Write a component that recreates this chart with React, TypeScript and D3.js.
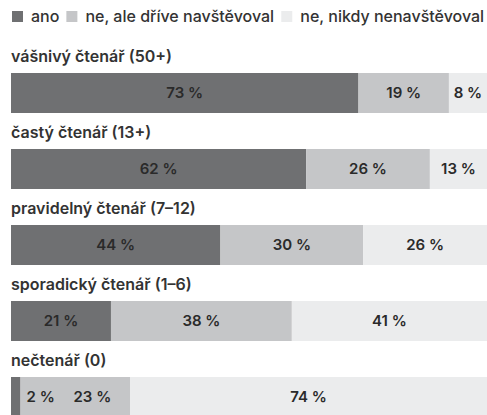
import React from "react";
import { scaleLinear, scaleBand } from "d3";

const categories = [
  "vášnivý čtenář (50+)",
  "častý čtenář (13+)",
  "pravidelný čtenář (7–12)",
  "sporadický čtenář (1–6)",
  "nečtenář (0)",
];
const seriesNames = ["ano", "ne, ale dříve navštěvoval", "ne, nikdy nenavštěvoval"];
const ano = [73, 62, 44, 21, 2];
const drive = [19, 26, 30, 38, 23];
const nikdy = [8, 13, 26, 41, 74];

const colors = ["#6f7072", "#c5c6c8", "#ebeced"];
const W = 487;
const H = 415;
const FONT = "Inter, 'Noto Sans', sans-serif";

let ctx: CanvasRenderingContext2D | null = null;
const measure = (t: string, font: string) => {
  if (!ctx) ctx = document.createElement("canvas").getContext("2d");
  if (!ctx) return t.length * 8;
  ctx.font = font;
  return ctx.measureText(t).width;
};

export default function App() {
  const left = 11;
  const xScale = scaleLinear().domain([0, 100]).range([left, W]);
  const yScale = scaleBand<string>()
    .domain(categories)
    .range([45, 45 + categories.length * 76]);

  const legendFont = `500 16px ${FONT}`;
  const legendX: number[] = [];
  let lx = 12;
  seriesNames.forEach((s) => {
    legendX.push(lx);
    lx += 11 + 8 + measure(s, legendFont) + 7;
  });

  const labelFont = `600 15px ${FONT}`;

  return (
    <svg
      width={W}
      height={H}
      viewBox={`0 0 ${W} ${H}`}
      style={{ position: "absolute", left: 0, top: 0, background: "#fff" }}
    >
      <g>
        {seriesNames.map((s, i) => (
          <g key={s}>
            <rect x={legendX[i]} y={11} width={11} height={11} fill={colors[i]} />
            <text
              x={legendX[i] + 19}
              y={22}
              fontFamily={FONT}
              fontSize={16}
              fontWeight={500}
              fill="#333"
            >
              {s}
            </text>
          </g>
        ))}
      </g>
      {categories.map((c, ci) => {
        const top = (yScale(c) as number) + 28;
        const vals = [ano[ci], drive[ci], nikdy[ci]];
        let cum = 0;
        const segs = vals.map((v, i) => {
          const x0 = xScale(cum);
          cum += v;
          const x1 = i === vals.length - 1 ? xScale(100) : xScale(cum);
          return { v, x0, x1, i };
        });
        let prevEnd = -Infinity;
        const labels = segs.map((s) => {
          const t = `${s.v} %`;
          const w = measure(t, labelFont);
          let cx: number;
          if (s.x1 - s.x0 < w + 8) {
            cx = s.x1 + 6 + w / 2;
          } else {
            const a = Math.max(s.x0, prevEnd);
            cx = (a + s.x1) / 2;
          }
          prevEnd = cx + w / 2;
          return { t, cx };
        });
        return (
          <g key={c}>
            <text
              x={left}
              y={top - 11}
              fontFamily={FONT}
              fontSize={16}
              fontWeight={600}
              fill="#333"
            >
              {c}
            </text>
            {segs.map((s) => (
              <rect
                key={s.i}
                x={s.x0}
                y={top}
                width={Math.max(0, s.x1 - s.x0)}
                height={40}
                fill={colors[s.i]}
              />
            ))}
            {labels.map((l, i) => (
              <text
                key={i}
                x={l.cx}
                y={top + 25}
                textAnchor="middle"
                fontFamily={FONT}
                fontSize={15}
                fontWeight={600}
                fill="#2a2a2a"
              >
                {l.t}
              </text>
            ))}
          </g>
        );
      })}
    </svg>
  );
}
